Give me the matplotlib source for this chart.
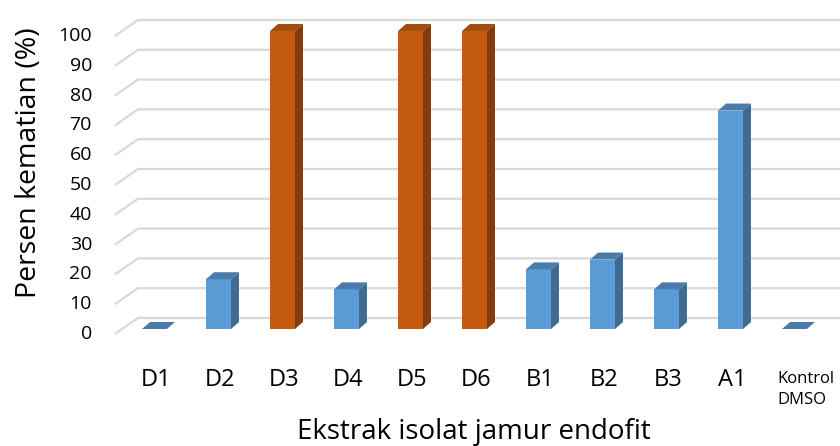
import matplotlib.pyplot as plt
from matplotlib.patches import Polygon

plt.rcParams['font.family'] = ['Open Sans', 'DejaVu Sans']

# ---------- DATA ----------
categories = ["D1", "D2", "D3", "D4", "D5", "D6", "B1", "B2", "B3", "A1", "Kontrol\nDMSO"]
mortality = [0, 16.7, 100, 13.3, 100, 100, 20, 23.3, 13.3, 73.3, 0]
full_kill = ["D3", "D5", "D6"]
y_ticks = [0, 10, 20, 30, 40, 50, 60, 70, 80, 90, 100]

# face colours: front, side, top
blue = ("#5b9bd5", "#3e6b94", "#4a7cab")
orange = ("#c55a11", "#843c0c", "#a34b0e")

# ---------- FIGURE ----------
fig = plt.figure(figsize=(8.4, 4.46), dpi=100)
ax = fig.add_axes([0, 0, 1, 1])
ax.set_xlim(-2.414, 10.711)
ax.set_ylim(-39.26, 110.4)
ax.axis("off")

# pseudo-3d offsets (data units)
floor_dx, floor_dy = -0.11, -1.68   # front edge of floor vs bar faces
wall_dx, wall_dy = 0.25, 3.7        # back wall vs bar faces
bar_dx, bar_dy = 0.125, 2.35        # bar depth
half_w = 0.195
wall_left = -0.258

# gridlines: short diagonal on the side wall + line along the back wall
for v in y_ticks:
    ax.plot([wall_left + floor_dx - wall_dx, wall_left, 10.8],
            [v + floor_dy, v + wall_dy, v + wall_dy],
            color="#d9d9d9", lw=1.6, zorder=1, solid_capstyle="butt")
    ax.text(-0.977, v + floor_dy, str(v), ha="right", va="center", fontsize=14)

# bars
for i, (cat, val) in enumerate(zip(categories, mortality)):
    front_c, side_c, top_c = orange if cat in full_kill else blue
    x0, x1 = i - half_w, i + half_w
    front = [(x0, 0), (x1, 0), (x1, val), (x0, val)]
    side = [(x1, 0), (x1 + bar_dx, bar_dy), (x1 + bar_dx, val + bar_dy), (x1, val)]
    top = [(x0, val), (x1, val), (x1 + bar_dx, val + bar_dy), (x0 + bar_dx, val + bar_dy)]
    ax.add_patch(Polygon(side, closed=True, fc=side_c, ec="none", zorder=3))
    ax.add_patch(Polygon(front, closed=True, fc=front_c, ec="none", zorder=3))
    ax.add_patch(Polygon(top, closed=True, fc=top_c, ec="none", zorder=3))

    if "\n" in cat:
        ax.text(i - 0.27, -20.3, cat, ha="left", va="center", fontsize=12, linespacing=1.45)
    else:
        ax.text(i + 0.03, -17.1, cat, ha="center", va="center", fontsize=17)

# axis titles
ax.text(4.99, -34.6, "Ekstrak isolat jamur endofit", ha="center", va="center", fontsize=20)
fig.text(29 / 840, 1 - 163 / 446, "Persen kematian (%)", rotation=90,
         ha="center", va="center", fontsize=20.5)

fig.savefig("out.png", dpi=100)
